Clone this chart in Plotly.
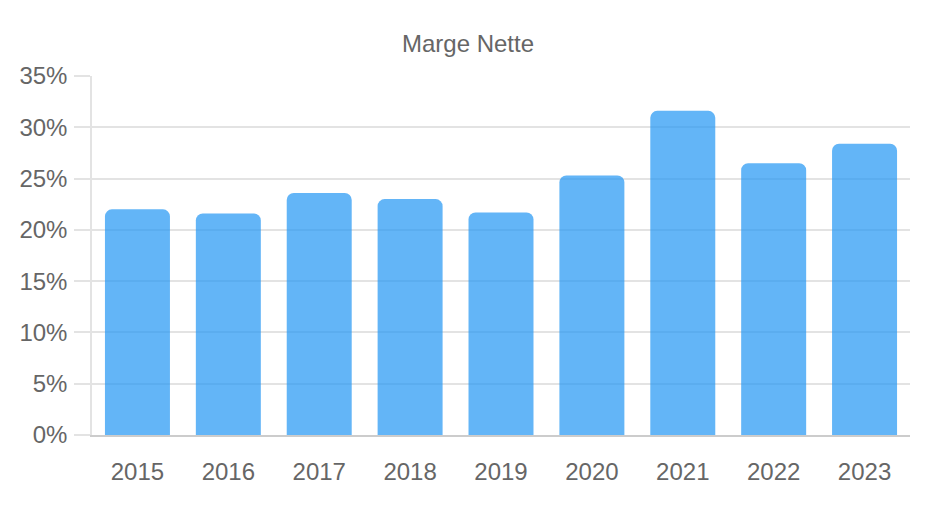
import plotly.graph_objects as go

years = ["2015", "2016", "2017", "2018", "2019", "2020", "2021", "2022", "2023"]
marge_nette = [22.0, 21.6, 23.6, 23.0, 21.7, 25.3, 31.6, 26.5, 28.4]

grid = "#e3e3e3"
txt = "#666666"

fig = go.Figure(go.Bar(
    x=years,
    y=marge_nette,
    marker=dict(color="rgba(33,150,243,0.7)", cornerradius=7, line=dict(width=0)),
    hovertemplate="%{x}: %{y:.1f}%<extra></extra>",
))

# the page body adds an 8px offset, margins are set to compensate
fig.update_layout(
    width=944, height=516,
    margin=dict(l=84, r=42, t=68, b=89),
    paper_bgcolor="white", plot_bgcolor="white",
    font=dict(family="Liberation Sans, Arial, sans-serif", color=txt),
    title=dict(text="Marge Nette", x=460 / 944, xref="container", xanchor="center",
               y=1 - 36 / 516, yanchor="middle", font=dict(size=24, color=txt)),
    bargap=0.285,
    showlegend=False,
)
fig.update_yaxes(
    range=[0, 35], dtick=5, ticksuffix="%",
    showgrid=True, gridcolor=grid, gridwidth=1.5,
    ticks="outside", ticklen=16, tickcolor=grid, tickwidth=1.5,
    ticklabelstandoff=2, automargin=False,
    showline=True, linecolor=grid, linewidth=1.5,
    zeroline=False, tickfont=dict(size=24, color=txt),
)
fig.update_xaxes(
    showgrid=False, showline=True, linecolor="#cccccc", linewidth=1.5,
    ticks="", ticklabelstandoff=14, automargin=False,
    tickfont=dict(size=24, color=txt),
)

fig.write_html("out.html")
